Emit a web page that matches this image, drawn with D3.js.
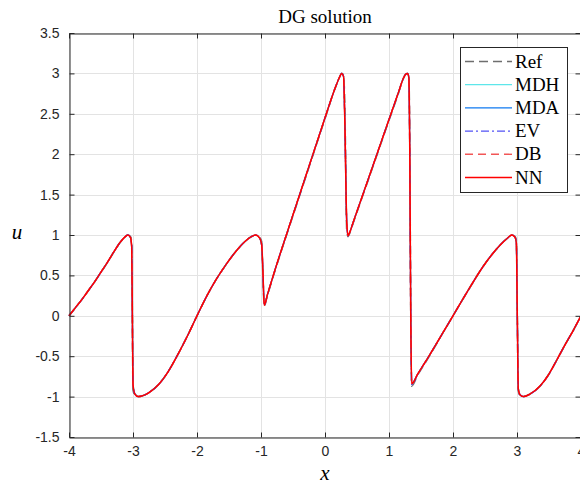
<!DOCTYPE html>
<html>
<head>
<meta charset="utf-8">
<script src="https://cdn.jsdelivr.net/npm/d3@7"></script>
<style>
  body { margin: 0; background: #ffffff; }
  svg { display: block; }
</style>
</head>
<body>
<svg id="chart" width="580" height="486"></svg>
<script>
// Sample locations of the DG solution u(x) on [-4, 4]
const xNum = [-4.00,-3.90,-3.80,-3.70,-3.60,-3.50,-3.40,-3.30,-3.20,-3.12,-3.08,-3.04,-3.02,-3.01,-3.00,-2.97,-2.92,-2.85,-2.75,-2.60,
  -2.45,-2.30,-2.15,-2.00,-1.85,-1.70,-1.55,-1.40,-1.25,-1.15,-1.08,-1.02,-0.99,-0.97,-0.95,-0.90,-0.80,-0.50,-0.20,0.00,
  0.15,0.22,0.26,0.29,0.31,0.34,0.36,0.38,0.45,0.75,1.00,1.15,1.22,1.26,1.29,1.31,1.325,1.34,1.355,1.45,
  1.60,1.85,2.00,2.21,2.47,2.60,2.73,2.85,2.92,2.97,2.99,3.005,3.02,3.05,3.10,3.20,3.36,3.50,3.62,3.75,3.88,4.00];

// Reference solution
const uRef = [0.00,0.10,0.20,0.31,0.42,0.54,0.66,0.79,0.91,0.98,1.00,0.98,0.92,0.00,-0.92,-0.98,-1.00,-0.99,-0.95,-0.85,
  -0.69,-0.48,-0.25,0.00,0.24,0.45,0.63,0.79,0.92,0.98,1.00,0.97,0.92,0.50,0.12,0.25,0.51,1.24,1.96,2.44,
  2.80,2.94,3.00,2.98,2.60,1.05,0.98,1.01,1.17,1.85,2.42,2.76,2.93,2.99,3.00,2.97,2.10,0.00,-0.87,-0.73,
  -0.54,-0.20,0.00,0.28,0.61,0.75,0.87,0.96,1.00,0.98,0.93,0.00,-0.93,-0.99,-1.00,-0.97,-0.87,-0.72,-0.55,-0.36,-0.18,0.00];

// Numerical solutions
const uMDH = [0.00,0.10,0.20,0.31,0.42,0.54,0.66,0.79,0.91,0.98,1.00,0.97,0.86,0.05,-0.83,-0.96,-1.00,-0.99,-0.95,-0.85,
  -0.69,-0.48,-0.25,0.00,0.24,0.45,0.63,0.79,0.92,0.98,1.00,0.96,0.89,0.58,0.14,0.26,0.52,1.25,1.97,2.45,
  2.80,2.94,3.00,2.97,2.42,1.16,0.99,1.02,1.18,1.86,2.43,2.77,2.93,2.99,3.00,2.96,2.05,0.05,-0.83,-0.72,
  -0.53,-0.20,0.00,0.28,0.61,0.75,0.87,0.96,1.00,0.97,0.91,0.05,-0.88,-0.98,-1.00,-0.97,-0.87,-0.72,-0.55,-0.36,-0.18,0.00];

const uMDA = [0.00,0.10,0.20,0.31,0.42,0.54,0.66,0.79,0.91,0.98,1.00,0.97,0.84,0.02,-0.86,-0.97,-1.00,-0.99,-0.95,-0.85,
  -0.69,-0.48,-0.25,0.00,0.24,0.45,0.63,0.79,0.92,0.98,1.00,0.96,0.87,0.53,0.14,0.26,0.52,1.25,1.97,2.45,
  2.80,2.94,3.00,2.96,2.38,1.14,0.99,1.02,1.18,1.86,2.43,2.77,2.93,2.99,3.00,2.95,1.95,-0.04,-0.85,-0.72,
  -0.53,-0.20,0.00,0.28,0.61,0.75,0.87,0.96,1.00,0.97,0.89,-0.03,-0.91,-0.98,-1.00,-0.97,-0.87,-0.72,-0.55,-0.36,-0.18,0.00];

const uEV = [0.00,0.10,0.20,0.31,0.42,0.54,0.66,0.79,0.91,0.98,1.00,0.97,0.85,0.01,-0.85,-0.97,-1.00,-0.99,-0.95,-0.85,
  -0.69,-0.48,-0.25,0.00,0.24,0.45,0.63,0.79,0.92,0.98,1.00,0.96,0.88,0.55,0.13,0.26,0.52,1.25,1.97,2.45,
  2.80,2.94,3.00,2.96,2.40,1.15,0.99,1.02,1.18,1.86,2.43,2.77,2.93,2.99,3.00,2.95,2.00,0.00,-0.85,-0.72,
  -0.53,-0.20,0.00,0.28,0.61,0.75,0.87,0.96,1.00,0.97,0.90,0.00,-0.90,-0.98,-1.00,-0.97,-0.87,-0.72,-0.55,-0.36,-0.18,0.00];

const uDB = [0.00,0.10,0.20,0.31,0.42,0.54,0.66,0.79,0.91,0.98,1.00,0.97,0.85,0.00,-0.85,-0.97,-1.00,-0.99,-0.95,-0.85,
  -0.69,-0.48,-0.25,0.00,0.24,0.45,0.63,0.79,0.92,0.98,1.00,0.96,0.88,0.55,0.13,0.26,0.52,1.25,1.97,2.45,
  2.80,2.94,3.00,2.96,2.40,1.15,0.99,1.02,1.18,1.86,2.43,2.77,2.93,2.99,3.00,2.95,2.00,0.00,-0.84,-0.72,
  -0.53,-0.20,0.00,0.28,0.61,0.75,0.87,0.96,1.00,0.97,0.90,0.00,-0.90,-0.98,-1.00,-0.97,-0.87,-0.72,-0.55,-0.36,-0.18,0.00];

const uNN = [0.00,0.10,0.20,0.31,0.42,0.54,0.66,0.79,0.91,0.98,1.00,0.97,0.85,0.00,-0.85,-0.97,-1.00,-0.99,-0.95,-0.85,
  -0.69,-0.48,-0.25,0.00,0.24,0.45,0.63,0.79,0.92,0.98,1.00,0.96,0.88,0.55,0.13,0.26,0.52,1.25,1.97,2.45,
  2.80,2.94,3.00,2.96,2.40,1.15,0.99,1.02,1.18,1.86,2.43,2.77,2.93,2.99,3.00,2.95,2.00,0.00,-0.84,-0.72,
  -0.53,-0.20,0.00,0.28,0.61,0.75,0.87,0.96,1.00,0.97,0.90,0.00,-0.90,-0.98,-1.00,-0.97,-0.87,-0.72,-0.55,-0.36,-0.18,0.00];

const seriesNames = ["Ref", "MDH", "MDA", "EV", "DB", "NN"];
const seriesValues = [uRef, uMDH, uMDA, uEV, uDB, uNN];

const xTickValues = [-4, -3, -2, -1, 0, 1, 2, 3, 4];
const xTickLabels = ["-4", "-3", "-2", "-1", "0", "1", "2", "3", "4"];
const yTickValues = [-1.5, -1, -0.5, 0, 0.5, 1, 1.5, 2, 2.5, 3, 3.5];
const yTickLabels = ["-1.5", "-1", "-0.5", "0", "0.5", "1", "1.5", "2", "2.5", "3", "3.5"];

// Line styles for each series
const styles = {
  Ref: { color: "#6e6e6e", width: 1.6, dash: "9,5" },
  MDH: { color: "#5ee6ea", width: 1.2, dash: null },
  MDA: { color: "#0f78f0", width: 1.2, dash: null },
  EV:  { color: "#5252f5", width: 1.4, dash: "8,3,2,3" },
  DB:  { color: "#f25656", width: 1.4, dash: "8,5" },
  NN:  { color: "#ff0000", width: 1.5, dash: null }
};

const plot = { left: 69, right: 581, top: 33, bottom: 437 };
const axisColor = "#262626";

const svg = d3.select("#chart");

const x = d3.scaleLinear().domain([-4, 4]).range([plot.left, plot.right]);
const y = d3.scaleLinear().domain([-1.5, 3.5]).range([plot.bottom, plot.top]);

// Grid
const grid = svg.append("g").attr("stroke", "#e3e3e3").attr("stroke-width", 1);
grid.selectAll("line.gx").data(xTickValues).join("line")
  .attr("x1", d => Math.round(x(d)) + 0.5).attr("x2", d => Math.round(x(d)) + 0.5)
  .attr("y1", plot.top).attr("y2", plot.bottom);
grid.selectAll("line.gy").data(yTickValues).join("line")
  .attr("y1", d => Math.round(y(d)) + 0.5).attr("y2", d => Math.round(y(d)) + 0.5)
  .attr("x1", plot.left).attr("x2", plot.right);

// Curves
const line = d3.line()
  .x(d => x(d[0]))
  .y(d => y(d[1]))
  .curve(d3.curveMonotoneX);

const curves = svg.append("g").attr("fill", "none");
seriesNames.forEach((name, i) => {
  const pts = xNum.map((xv, j) => [xv, seriesValues[i][j]]);
  const st = styles[name];
  curves.append("path")
    .attr("d", line(pts))
    .attr("stroke", st.color)
    .attr("stroke-width", st.width)
    .attr("stroke-linejoin", "round")
    .attr("stroke-dasharray", st.dash);
});

// Axes (ticks pointing inward, box on all sides)
function styleAxis(g) {
  g.select(".domain").attr("stroke", axisColor).attr("stroke-width", 1);
  g.selectAll(".tick line").attr("stroke", axisColor);
  g.selectAll(".tick text")
    .attr("fill", axisColor)
    .attr("font-family", "'Liberation Sans', Arial, sans-serif")
    .attr("font-size", 14);
}

const xAxis = d3.axisBottom(x).tickValues(xTickValues)
  .tickFormat((d, i) => xTickLabels[i]).tickSizeInner(-5).tickSizeOuter(0).tickPadding(9);
svg.append("g").attr("transform", `translate(0,${plot.bottom + 0.5})`).call(xAxis).call(styleAxis);

const yAxis = d3.axisLeft(y).tickValues(yTickValues)
  .tickFormat((d, i) => yTickLabels[i]).tickSizeInner(-5).tickSizeOuter(0).tickPadding(10);
svg.append("g").attr("transform", `translate(${plot.left + 0.5},0)`).call(yAxis).call(styleAxis);

const xTop = d3.axisTop(x).tickValues(xTickValues).tickFormat("").tickSizeInner(-5).tickSizeOuter(0);
svg.append("g").attr("transform", `translate(0,${plot.top + 0.5})`).call(xTop).call(styleAxis);

const yRight = d3.axisRight(y).tickValues(yTickValues).tickFormat("").tickSizeInner(-5).tickSizeOuter(0);
svg.append("g").attr("transform", `translate(${plot.right - 0.5},0)`).call(yRight).call(styleAxis);

// Title and axis labels
const serif = "'Liberation Serif', 'Times New Roman', serif";
svg.append("text")
  .attr("x", (plot.left + plot.right) / 2).attr("y", 23)
  .attr("text-anchor", "middle")
  .attr("font-family", serif).attr("font-size", 19).attr("fill", "#000")
  .text("DG solution");

svg.append("text")
  .attr("x", (plot.left + plot.right) / 2).attr("y", 480)
  .attr("text-anchor", "middle")
  .attr("font-family", serif).attr("font-style", "italic").attr("font-size", 21).attr("fill", "#000")
  .text("x");

svg.append("text")
  .attr("x", 17).attr("y", (plot.top + plot.bottom) / 2 + 4)
  .attr("text-anchor", "middle")
  .attr("font-family", serif).attr("font-style", "italic").attr("font-size", 21).attr("fill", "#000")
  .text("u");

// Legend
const legend = svg.append("g");
const lg = { x: 460, y: 47, w: 107, h: 145, row: 23.2, first: 61.5 };
legend.append("rect")
  .attr("x", lg.x + 0.5).attr("y", lg.y + 0.5).attr("width", lg.w).attr("height", lg.h)
  .attr("fill", "#fff").attr("stroke", axisColor).attr("stroke-width", 1);

seriesNames.forEach((name, i) => {
  const yy = lg.first + i * lg.row;
  const st = styles[name];
  legend.append("line")
    .attr("x1", 465).attr("x2", 512).attr("y1", yy).attr("y2", yy)
    .attr("stroke", st.color).attr("stroke-width", st.width)
    .attr("stroke-dasharray", st.dash);
  legend.append("text")
    .attr("x", 515).attr("y", yy + 6)
    .attr("font-family", serif).attr("font-size", 19).attr("fill", "#000")
    .text(name);
});
</script>
</body>
</html>
